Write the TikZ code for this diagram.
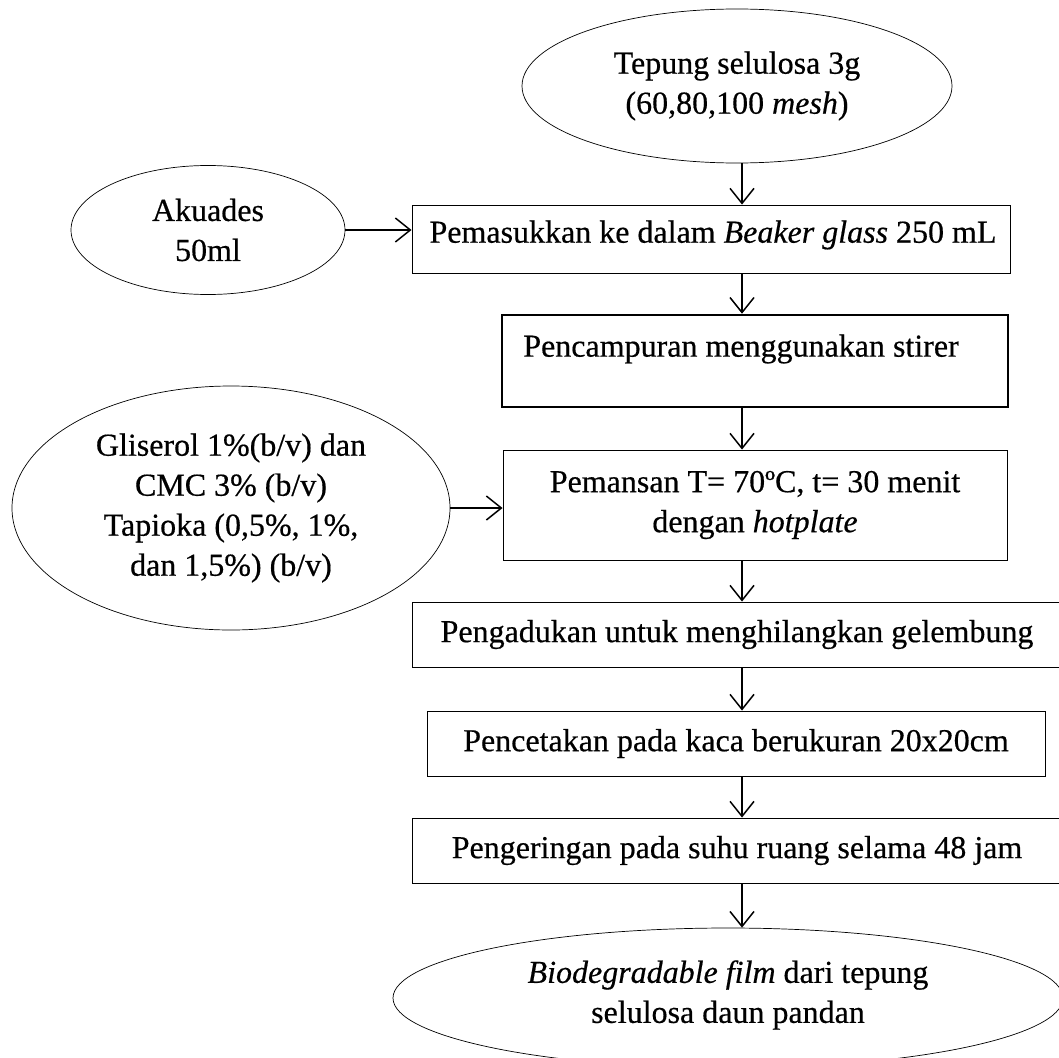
\documentclass[tikz,border=0pt]{standalone}
\usepackage{fontspec}
\setmainfont{Liberation Serif}[FakeBold=0.5]
\usetikzlibrary{shapes.geometric,arrows.meta,calc}
\begin{document}
\begin{tikzpicture}[x=1pt,y=-1pt,
  every node/.style={font=\fontsize{32}{40}\selectfont, align=center, inner sep=0pt},
  procbox/.style={draw, rectangle, line width=0.9pt},
  thickbox/.style={draw, rectangle, line width=2.6pt},
  oval/.style={draw, ellipse, line width=0.7pt},
  arr/.style={line width=1.5pt, -{Straight Barb[length=15pt,width=24pt,line width=1.5pt]}}
]
\useasboundingbox (0,0) rectangle (1059,1057);
\clip (0,0) rectangle (1059,1057);
\coordinate (col) at (742,0);

\node[oval, minimum width=430pt, minimum height=154pt] (src) at (737,86) {Tepung selulosa 3g\\(60,80,100 \textit{mesh})};
\node[oval, minimum width=274pt, minimum height=129pt] (aq) at (208,230) {Akuades\\50ml};
\node[procbox, minimum width=598pt, minimum height=68pt] (b1) at (711,239) {};
\node (b1t) at (713,235) {Pemasukkan ke dalam \textit{Beaker glass} 250 mL};
\node[thickbox, minimum width=506pt, minimum height=92pt] (b2) at (755,361) {};
\node (b2t) at (741,349) {Pencampuran menggunakan stirer};
\node[oval, minimum width=438pt, minimum height=244pt] (gl) at (231,508) {Gliserol 1\%(b/v) dan\\CMC 3\% (b/v)\\Tapioka (0,5\%, 1\%,\\dan 1,5\%) (b/v)};
\node[procbox, minimum width=504pt, minimum height=110pt] (b3) at (755,505) {Pemansan T= 70ºC, t= 30 menit\\dengan \textit{hotplate}};
\node[procbox, minimum width=650pt, minimum height=65pt] (b4) at (737,634.5) {Pengadukan untuk menghilangkan gelembung};
\node[procbox, minimum width=618pt, minimum height=65pt] (b5) at (736,743.5) {Pencetakan pada kaca berukuran 20x20cm};
\node[procbox, minimum width=650pt, minimum height=65pt] (b6) at (737,850.5) {Pengeringan pada suhu ruang selama 48 jam};
\node[oval, minimum width=670pt, minimum height=140pt] (out) at (728,998) {};
\node (outt) at (728,995) {\textit{Biodegradable film} dari tepung\\selulosa daun pandan};

\draw[arr] (src.south -| col) -- (b1.north -| col);
\draw[arr] (aq.east) -- (aq.east -| b1.west);
\draw[arr] (b1.south -| col) -- (b2.north -| col);
\draw[arr] (b2.south -| col) -- (b3.north -| col);
\draw[arr] (gl.east) -- (gl.east -| b3.west);
\draw[arr] (b3.south -| col) -- (b4.north -| col);
\draw[arr] (b4.south -| col) -- (b5.north -| col);
\draw[arr] (b5.south -| col) -- (b6.north -| col);
\draw[arr] (b6.south -| col) -- (out.north -| col);
\end{tikzpicture}
\end{document}
